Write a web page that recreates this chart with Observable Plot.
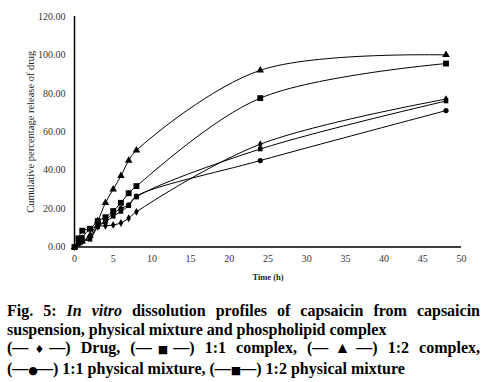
<!DOCTYPE html>
<html>
<head>
<meta charset="utf-8">
<script src="https://cdn.jsdelivr.net/npm/d3@7"></script>
<script src="https://cdn.jsdelivr.net/npm/@observablehq/plot@0.6"></script>
<style>
  body { margin: 0; background: #fff; }
  #chart svg { display: block; }
  .cap { font-family: "Liberation Serif", "Times New Roman", serif; font-weight: bold; font-size: 16px; line-height: 18.5px; color: #000; margin: 12px 4px 0 7px; width: 473px; }
  .cap div { white-space: nowrap; }
  .cap .j { text-align: justify; text-align-last: justify; white-space: normal; }
  .sym { font-family: "DejaVu Sans", sans-serif; font-size: 11px; letter-spacing: -1px; }
</style>
</head>
<body>
<div id="chart"></div>
<div class="cap">
  <div class="j">Fig. 5: <i>In vitro</i> dissolution profiles of capsaicin from capsaicin</div>
  <div>suspension, physical mixture and phospholipid complex</div>
  <div class="j">(—<span class="sym">♦</span>—) Drug, (—<span class="sym">■</span>—) 1:1 complex, (—▲—) 1:2 complex,</div>
  <div>(—<span class="sym">●</span>—) 1:1 physical mixture, (—<span class="sym">■</span>—) 1:2 physical mixture</div>
</div>
<script>
const time = [0, 0.5, 1, 2, 3, 4, 5, 6, 7, 8, 24, 48];
const drug = [0, 2, 3, 5, 10.5, 11, 11.5, 12.5, 15, 18.3, 53.5, 77];
const complex11 = [0, 4.5, 8.5, 9.5, 13.5, 15.5, 18.7, 23, 28, 31.7, 77.5, 95.5];
const complex12 = [0, 2, 3, 6, 13.5, 23, 30, 37, 45, 50.3, 92, 100];
const physMix11 = [0, 3, 5, 9.5, 11, 14, 17.5, 20, 22, 26.5, 45, 71];
const physMix12 = [0, 1.5, 3, 4, 10.5, 13, 16, 18.5, 21.5, 26, 51, 76];
const xTicks = [0, 5, 10, 15, 20, 25, 30, 35, 40, 45, 50];
const yTicks = [0, 20, 40, 60, 80, 100, 120];

const serif = '"Liberation Serif", "Times New Roman", serif';

const series = [
  {name: "Drug", values: drug, symbol: "diamond", r: 2.4},
  {name: "1:1 complex", values: complex11, symbol: "square", r: 3.3},
  {name: "1:2 complex", values: complex12, symbol: "triangle", r: 2.8},
  {name: "1:1 physical mixture", values: physMix11, symbol: "circle", r: 2.6},
  {name: "1:2 physical mixture", values: physMix12, symbol: "square", r: 2.6}
];

const marks = [
  Plot.axisY({ticks: yTicks, tickSize: 0, tickPadding: 9, tickFormat: d => d.toFixed(2), label: null,
    fontSize: 10, fill: "#333", fontFamily: serif}),
  Plot.axisX({ticks: xTicks, tickSize: 0, tickPadding: 8, label: null,
    fontSize: 10, fill: "#333", fontFamily: serif}),
  Plot.ruleY([0], {stroke: "#000", strokeWidth: 1.5}),
  Plot.ruleX([0], {stroke: "#000", strokeWidth: 1.5}),
  Plot.text(["Cumulative percentage release of drug"], {frameAnchor: "left", dx: -44, rotate: -90,
    textAnchor: "middle", fontSize: 10.5, fill: "#222", fontFamily: serif}),
  Plot.text(["Time (h)"], {frameAnchor: "bottom", dy: 33, textAnchor: "middle", fontSize: 8.5, fontWeight: "bold",
    fill: "#222", fontFamily: serif})
];

for (const s of series) {
  const rows = time.map((t, i) => ({t, v: s.values[i]}));
  marks.push(Plot.line(rows, {x: "t", y: "v", curve: "catmull-rom", stroke: "#000", strokeWidth: 1}));
  marks.push(Plot.dot(rows, {x: "t", y: "v", symbol: () => s.symbol, r: s.r, fill: "#000", stroke: "none"}));
}

const chart = Plot.plot({
  width: 484,
  height: 290,
  marginTop: 16,
  marginBottom: 43.5,
  marginLeft: 74,
  marginRight: 23,
  x: {domain: [0, 50]},
  y: {domain: [0, 120]},
  symbol: {type: "identity"},
  style: {fontFamily: serif, background: "#fff"},
  marks
});
document.getElementById("chart").appendChild(chart);
</script>
</body>
</html>
